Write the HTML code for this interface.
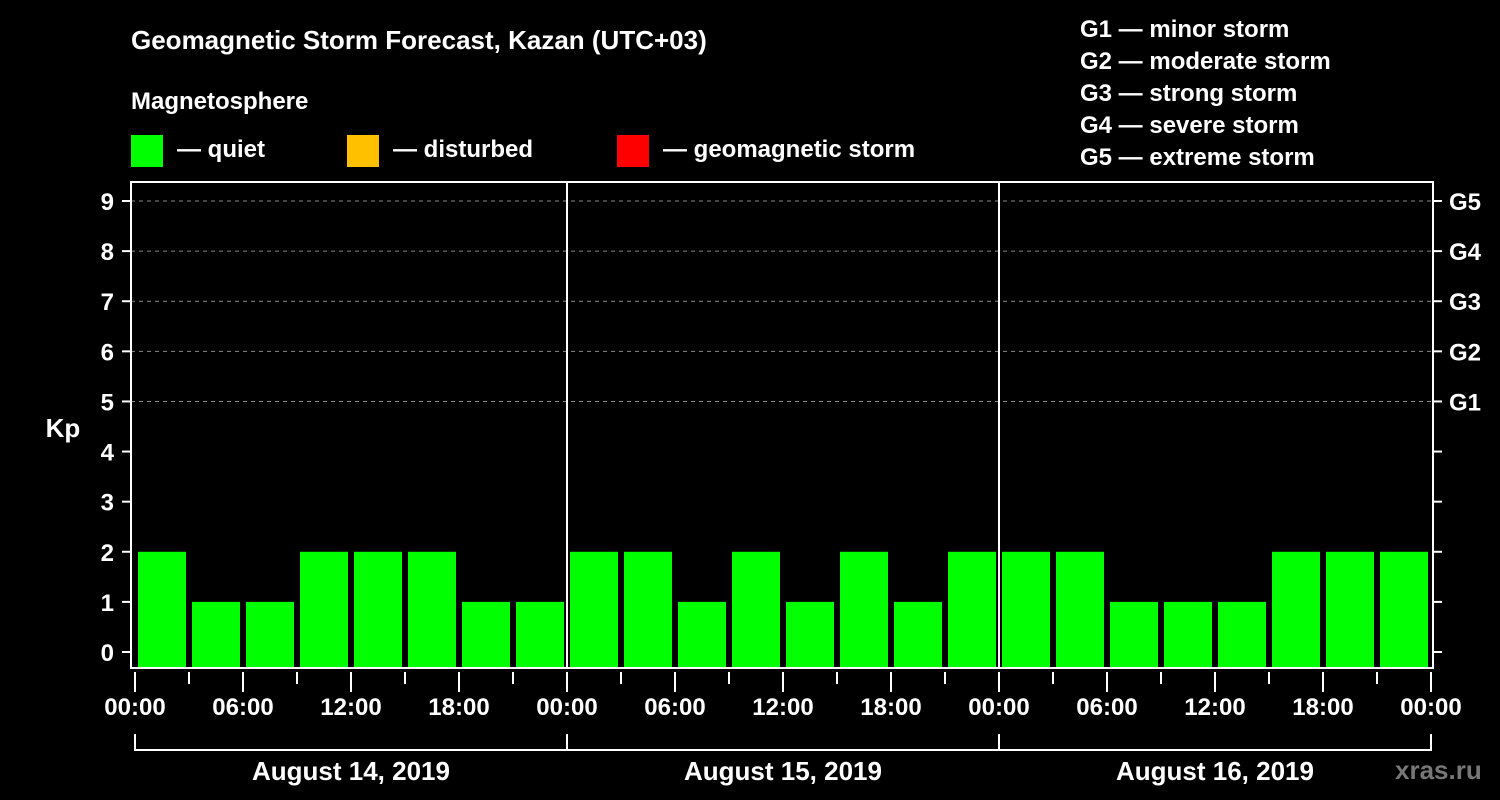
<!DOCTYPE html>
<html><head><meta charset="utf-8"><style>
body{margin:0;background:#000;width:1500px;height:800px;overflow:hidden}
svg{display:block;font-family:"Liberation Sans",Arial,sans-serif;font-weight:bold}
</style></head><body>
<svg id="c" width="1500" height="800" viewBox="0 0 1500 800">
<rect width="1500" height="800" fill="#000"/>
<text x="131" y="49" fill="#fff" font-size="26">Geomagnetic Storm Forecast, Kazan (UTC+03)</text>
<text x="131" y="109" fill="#fff" font-size="24">Magnetosphere</text>
<g><rect x="131" y="135" width="32" height="32" fill="#00ff00"/><text x="177" y="157" fill="#fff" font-size="24">— quiet</text></g>
<g><rect x="347" y="135" width="32" height="32" fill="#ffc000"/><text x="393" y="157" fill="#fff" font-size="24">— disturbed</text></g>
<g><rect x="617" y="135" width="32" height="32" fill="#ff0000"/><text x="663" y="157" fill="#fff" font-size="24">— geomagnetic storm</text></g>
<g fill="#fff" font-size="24">
<text x="1080" y="37">G1 — minor storm</text><text x="1080" y="69">G2 — moderate storm</text><text x="1080" y="101">G3 — strong storm</text><text x="1080" y="133">G4 — severe storm</text><text x="1080" y="165">G5 — extreme storm</text>
</g>
<text x="63" y="437" fill="#fff" font-size="26" text-anchor="middle">Kp</text>
<text x="1395" y="779" fill="#777" font-size="26">xras.ru</text>
<g id="plot"></g>
</svg>
<script>
const kpValues=[2,1,1,2,2,2,1,1, 2,2,1,2,1,2,1,2, 2,2,1,1,1,2,2,2];
const yTicks=[0,1,2,3,4,5,6,7,8,9];
const gLabels=["G1","G2","G3","G4","G5"];
const gLevels=[5,6,7,8,9];
const xTickLabels=["00:00","06:00","12:00","18:00","00:00","06:00","12:00","18:00","00:00","06:00","12:00","18:00","00:00"];
const dayLabels=["August 14, 2019","August 15, 2019","August 16, 2019"];
const NS="http://www.w3.org/2000/svg";
const g=document.getElementById('plot');
const x0=135, slot=54, L=131, R=1433, T=182, B=668;
const y=v=>652-v*50.11;
const xs=i=>x0+i*slot;
function el(t,a,p){const e=document.createElementNS(NS,t);for(const k in a)e.setAttribute(k,a[k]);(p||g).appendChild(e);return e;}
yTicks.forEach(v=>{
  if(v>=5){const l=el('line',{x1:L,x2:R,y1:y(v),y2:y(v),stroke:'#888','stroke-dasharray':'4,4','stroke-width':1});
  
  }
  el('line',{x1:122,x2:L,y1:y(v),y2:y(v),stroke:'#fff','stroke-width':2});
  el('line',{x1:R,x2:1442,y1:y(v),y2:y(v),stroke:'#fff','stroke-width':2});
  const t=el('text',{x:114,y:y(v)+9,fill:'#fff','font-size':24,'text-anchor':'end'});t.textContent=v;
  
  
});
gLabels.forEach((s,i)=>{const t=el('text',{x:1449,y:y(gLevels[i])+9,fill:'#fff','font-size':24});t.textContent=s;
  
  });
kpValues.forEach((v,i)=>{
  const r=el('rect',{x:xs(i)+3,y:y(v),width:48,height:B-y(v),fill:'#00ff00'});
  
  
});
el('rect',{x:L,y:T,width:R-L,height:B-T,fill:'none',stroke:'#fff','stroke-width':2});
[1,2].forEach(d=>el('line',{x1:xs(d*8),x2:xs(d*8),y1:T,y2:B,stroke:'#fff','stroke-width':2}));
for(let i=0;i<=kpValues.length;i++){
  el('line',{x1:xs(i),x2:xs(i),y1:B+4,y2:i%2?B+16:B+24,stroke:'#fff','stroke-width':2});
}
xTickLabels.forEach((s,i)=>{const t=el('text',{x:xs(i*2),y:715,fill:'#fff','font-size':24,'text-anchor':'middle'});t.textContent=s;
  
  });
el('line',{x1:xs(0),x2:xs(24),y1:750,y2:750,stroke:'#fff','stroke-width':2});
for(let d=0;d<=3;d++)el('line',{x1:xs(d*8),x2:xs(d*8),y1:734,y2:751,stroke:'#fff','stroke-width':2});
dayLabels.forEach((s,d)=>{const t=el('text',{x:xs(d*8+4),y:780,fill:'#fff','font-size':26,'text-anchor':'middle'});t.textContent=s;
  
  });
</script>
</body></html>
